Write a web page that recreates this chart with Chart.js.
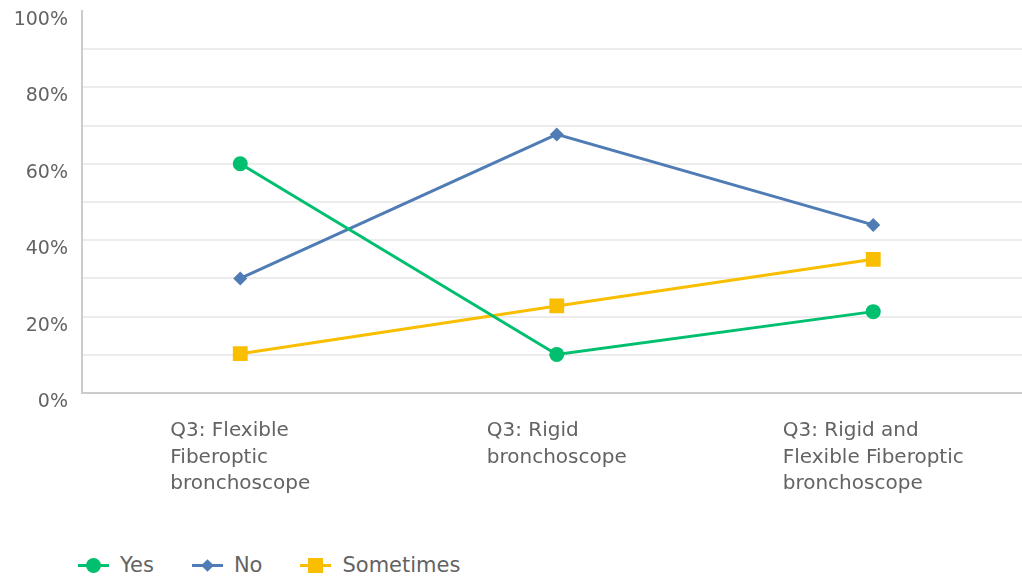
<!DOCTYPE html>
<html>
<head>
<meta charset="utf-8">
<script src="https://cdn.jsdelivr.net/npm/chart.js@4.4.1/dist/chart.umd.min.js"></script>
<style>
  html, body { margin: 0; padding: 0; background: #fff; overflow: hidden; }
  #wrap { position: relative; width: 1042px; height: 520px; }
  #legend { position: absolute; left: 78px; top: 553px; display: flex; font-family: "DejaVu Sans", sans-serif; font-size: 21px; color: #636363; }
  .item { display: flex; align-items: center; margin-right: 38px; }
  .mark { position: relative; width: 31px; height: 20px; margin-right: 11px; }
  .mark .ln { position: absolute; left: 0; right: 0; top: 9px; height: 3px; }
  .mark .pt { position: absolute; }
</style>
</head>
<body>
<div id="wrap"><canvas id="lineChart" width="1042" height="520"></canvas></div>
<div id="legend"></div>
<script>
// categories and answer shares (%)
const categories = [
    ["Q3: Flexible", "Fiberoptic", "bronchoscope"],
    ["Q3: Rigid", "bronchoscope"],
    ["Q3: Rigid and", "Flexible Fiberoptic", "bronchoscope"]
];
const yesValues = [60, 10.1, 21.3];
const noValues = [30, 67.7, 44];
const sometimesValues = [10.3, 22.8, 35];
const yTicks = [0, 20, 40, 60, 80, 100];

const FONT = "DejaVu Sans";
const TEXT = "#636363";

// draws the multi-line x labels, left aligned inside a centred block
const xLabels = {
    id: "xLabels",
    afterDraw(chart) {
        const ctx = chart.ctx;
        const x = chart.scales.x;
        ctx.save();
        ctx.font = "20px '" + FONT + "'";
        ctx.fillStyle = TEXT;
        ctx.textAlign = "left";
        ctx.textBaseline = "middle";
        categories.forEach((lines, i) => {
            const w = Math.max(...lines.map(l => ctx.measureText(l).width));
            const left = x.getPixelForValue(i) - w / 2;
            lines.forEach((l, j) => ctx.fillText(l, left, 431 + j * 26.5));
        });
        ctx.restore();
    }
};

const series = [
    { label: "Yes", data: yesValues, color: "#00bf6f", style: "circle", radius: 7.5 },
    { label: "No", data: noValues, color: "#507cb6", style: "rectRot", radius: 7 },
    { label: "Sometimes", data: sometimesValues, color: "#f9be00", style: "rect", radius: 10.5 }
];

new Chart(document.getElementById("lineChart"), {
    type: "line",
    data: {
        labels: categories.map(c => c.join(" ")),
        datasets: series.map(s => ({
            label: s.label,
            data: s.data,
            borderColor: s.color,
            backgroundColor: s.color,
            borderWidth: 3,
            pointStyle: s.style,
            pointRadius: s.radius,
            pointHoverRadius: s.radius,
            pointBorderWidth: 0,
            tension: 0
        }))
    },
    options: {
        responsive: false,
        animation: false,
        layout: { padding: { top: 11, right: 7, left: 0, bottom: 0 } },
        plugins: { legend: { display: false }, tooltip: { enabled: false } },
        scales: {
            x: {
                offset: true,
                grid: { display: false },
                border: { color: "#ccc", width: 2 },
                ticks: { display: false },
                afterFit(s) { s.height = 127; }
            },
            y: {
                min: 0,
                max: 100,
                ticks: {
                    stepSize: 10,
                    padding: 14,
                    labelOffset: 9,
                    color: TEXT,
                    font: { family: FONT, size: 19 },
                    callback: v => yTicks.includes(v) ? v + "%" : ""
                },
                grid: {
                    drawTicks: false,
                    lineWidth: 2,
                    color: c => c.tick.value === 100 ? "rgba(0,0,0,0)" : c.tick.value === 0 ? "#ccc" : "#ececec"
                },
                border: { color: "#ccc", width: 2 },
                afterFit(s) {
                    s.width = 82;
                    s.paddingTop = 0;
                    s.paddingBottom = 0;
                }
            }
        }
    },
    plugins: [xLabels]
});

// legend: line with marker, then label
const legend = document.getElementById("legend");
series.forEach(s => {
    const item = document.createElement("div");
    item.className = "item";
    let pt;
    if (s.style === "circle") pt = `left:8px;top:3px;width:15px;height:15px;border-radius:50%;`;
    else if (s.style === "rectRot") pt = `left:11px;top:6px;width:9px;height:9px;transform:rotate(45deg);`;
    else pt = `left:8px;top:3px;width:15px;height:15px;`;
    item.innerHTML = `<span class="mark"><span class="ln" style="background:${s.color}"></span>` +
        `<span class="pt" style="${pt}background:${s.color}"></span></span><span>${s.label}</span>`;
    legend.appendChild(item);
});
</script>
</body>
</html>
